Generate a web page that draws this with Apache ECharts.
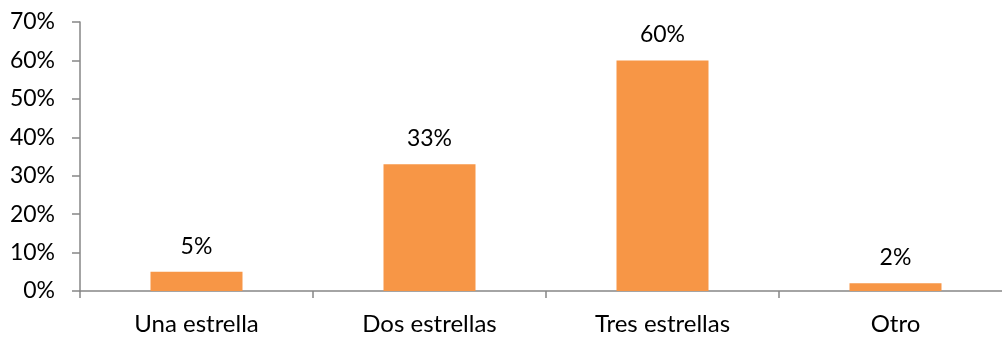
<!DOCTYPE html>
<html><head><meta charset="utf-8">
<script src="https://cdn.jsdelivr.net/npm/echarts@6/dist/echarts.min.js"></script>
<style>html,body{margin:0;padding:0;background:#fff}#c{width:1002px;height:337px}</style>
</head><body><div id="c"></div>
<script>
var categories = ["Una estrella", "Dos estrellas", "Tres estrellas", "Otro"];
var values = [5, 33, 60, 2];
var yTicks = [0, 10, 20, 30, 40, 50, 60, 70];

var chart = echarts.init(document.getElementById('c'), null, {renderer: 'canvas'});
var font = 'Lato, "Open Sans", sans-serif';
chart.setOption({
  animation: false,
  grid: {left: 80, width: 932, top: 22, bottom: 46, outerBoundsMode: 'none', containLabel: false},
  xAxis: {
    type: 'category', data: categories,
    axisLine: {lineStyle: {color: '#868686', width: 1.5}},
    axisTick: {show: true, length: 7, lineStyle: {color: '#868686', width: 1.5}},
    axisLabel: {color: '#000', fontSize: 24, fontFamily: font, margin: 21}
  },
  yAxis: {
    type: 'value', min: yTicks[0], max: yTicks[yTicks.length - 1], interval: 10,
    axisLine: {show: true, lineStyle: {color: '#868686', width: 1.5}},
    axisTick: {show: true, length: 8, lineStyle: {color: '#868686', width: 1.5}},
    splitLine: {show: false},
    axisLabel: {color: '#000', fontSize: 23, fontFamily: font, margin: 25, formatter: '{value}%'}
  },
  series: [{
    type: 'bar', data: values, barWidth: 92,
    itemStyle: {color: '#F79646'},
    label: {show: true, position: 'top', distance: 14, color: '#000', fontSize: 23, fontFamily: font, formatter: '{c}%'}
  }]
});
</script></body></html>
